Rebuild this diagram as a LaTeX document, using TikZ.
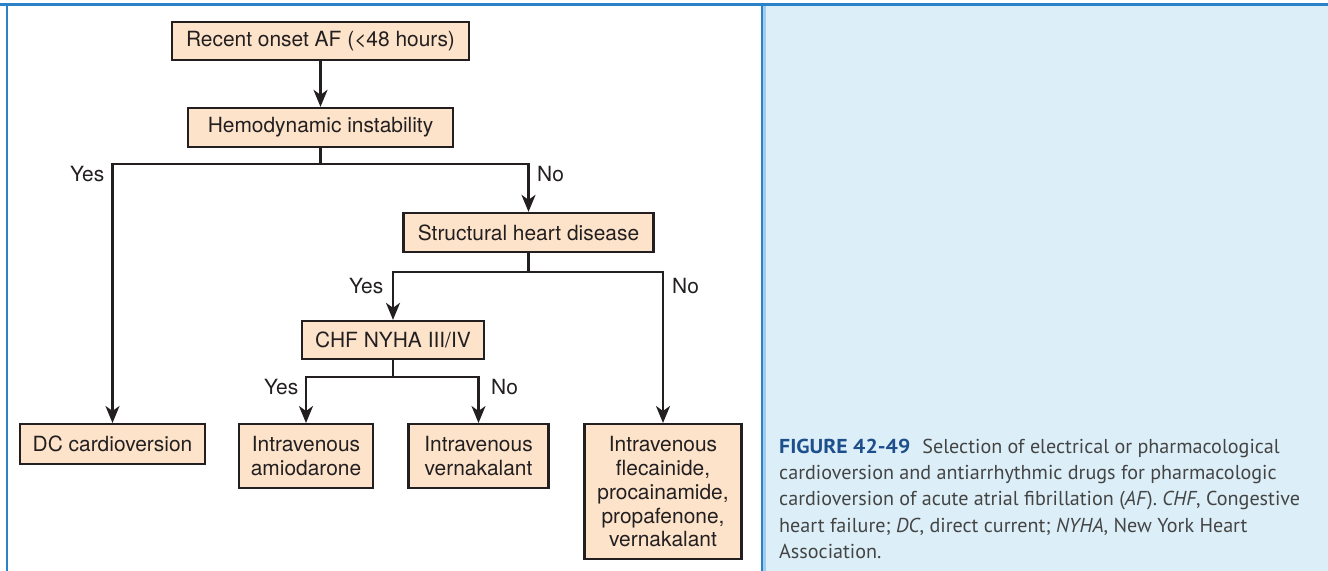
\documentclass[tikz,border=0pt]{standalone}
\usepackage{fontspec}
\setmainfont{TeX Gyre Heros}
\newfontfamily\capfont{PT Sans}
\usetikzlibrary{arrows.meta}

\definecolor{frameblue}{HTML}{2B82C9}
\definecolor{stripblue}{HTML}{9FCDEB}
\definecolor{panelblue}{HTML}{DCEFF8}
\definecolor{peach}{HTML}{FCE3CA}
\definecolor{inkdark}{HTML}{231F20}
\definecolor{figblue}{HTML}{1F4E8C}
\definecolor{capgray}{HTML}{444444}

\tikzset{
  box/.style={draw=inkdark, fill=peach, line width=2.3bp, inner sep=0pt,
    align=center, text=inkdark, font=\fontsize{21}{24}\selectfont},
  link/.style={draw=inkdark, line width=2.3bp},
  arr/.style={link, -{Stealth[length=17bp,width=14bp,inset=5bp]}},
  lab/.style={inner sep=0pt, text=inkdark, font=\fontsize{21}{24}\selectfont},
  capline/.style={inner sep=0pt, anchor=base west, text=capgray,
    font=\capfont\fontsize{20.2}{26}\selectfont},
}

\begin{document}
\begin{tikzpicture}[x=1bp,y=-1bp]
\useasboundingbox (0,0) rectangle (1328,571);

% page background, caption panel and blue frame rules
\fill[white] (0,0) rectangle (1328,571);
\fill[panelblue] (763,6) rectangle (1328,571);
\fill[stripblue] (763,6) rectangle (765.5,571);
\fill[frameblue] (0,3.4) rectangle (1328,6.4);
\fill[frameblue] (5.8,3.4) rectangle (8.3,571);
\fill[frameblue] (760.7,3.4) rectangle (763.3,571);

% decision boxes
\node[box, minimum width=297bp, minimum height=38bp] (onset) at (320.5,41) {Recent onset AF (<48 hours)};
\node[box, minimum width=265bp, minimum height=39bp] (hemo) at (320.5,127.5) {Hemodynamic instability};
\node[box, minimum width=250bp, minimum height=39bp] (shd) at (528.5,232.5) {Structural heart disease};
\node[box, minimum width=182bp, minimum height=38bp] (chf) at (393,340) {CHF NYHA III/IV};

% treatment boxes
\node[box, minimum width=185bp, minimum height=40bp, anchor=north] (dc) at (112.5,423) {DC cardioversion};
\node[box, minimum width=134bp, minimum height=64bp, anchor=north] (amio) at (306,423) {Intravenous\\amiodarone};
\node[box, minimum width=140bp, minimum height=64bp, anchor=north] (vern) at (478.5,423) {Intravenous\\vernakalant};
\node[box, minimum width=157bp, minimum height=135bp, anchor=north] (other) at (663,423)
  {Intravenous\\flecainide,\\procainamide,\\propafenone,\\vernakalant};

% branch points
\coordinate (j1) at (320.5,164);
\coordinate (j2) at (528.5,272);
\coordinate (j3) at (393,377);

% connectors
\draw[arr] (onset) -- (hemo);
\draw[link] (hemo.south) -- (j1);
\draw[arr] (j1) -| (dc.north);
\draw[arr] (j1) -| (shd.north);
\draw[link] (shd.south) -- (j2);
\draw[arr] (j2) -| (chf.north);
\draw[arr] (j2) -| (other.north);
\draw[link] (chf.south) -- (j3);
\draw[arr] (j3) -| (amio.north);
\draw[arr] (j3) -| (vern.north);

% branch labels
\node[lab, anchor=base east] (y1) at (104.5,182) {Yes};
\node[lab, anchor=base west] (n1) at (537,182) {No};
\node[lab, anchor=base east] (y2) at (383.5,293) {Yes};
\node[lab, anchor=base west] (n2) at (672,293) {No};
\node[lab, anchor=base east] (y3) at (298.5,394) {Yes};
\node[lab, anchor=base west] (n3) at (491,394) {No};

% figure caption, one node per printed line
\node[capline] (c1) at (779,453) {\textcolor{figblue}{\scalebox{1.08}[1]{\textbf{FIGURE 42-49}}}\hspace{0.6em}Selection of electrical or pharmacological};
\node[capline] (c2) at (779,479.5) {cardioversion and antiarrhythmic drugs for pharmacologic};
\node[capline] (c3) at (779,505.8) {cardioversion of acute atrial fibrillation (\textit{AF}). \textit{CHF}, Congestive};
\node[capline] (c4) at (779,532) {heart failure; \textit{DC}, direct current; \textit{NYHA}, New York Heart};
\node[capline] (c5) at (779,558) {Association.};
\end{tikzpicture}
\end{document}
